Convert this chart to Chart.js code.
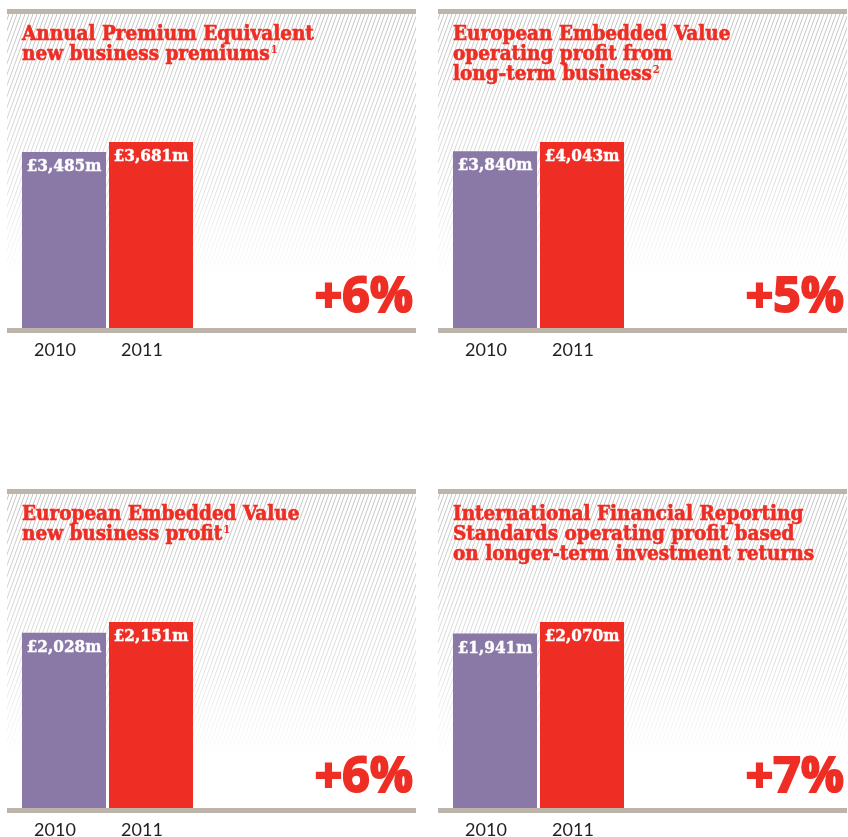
<!DOCTYPE html>
<html>
<head>
<meta charset="utf-8">
<script src="https://cdn.jsdelivr.net/npm/chart.js@4.4.0/dist/chart.umd.min.js"></script>
<style>
  body { margin: 0; background: #fff; width: 848px; height: 837px; overflow: hidden; position: relative; }
  .panel { position: absolute; width: 409px; height: 357px; }
</style>
</head>
<body>
<div class="panel" style="left:7px;top:0"><canvas id="c1" width="409" height="357"></canvas></div>
<div class="panel" style="left:438px;top:0"><canvas id="c2" width="409" height="357"></canvas></div>
<div class="panel" style="left:7px;top:480px"><canvas id="c3" width="409" height="357"></canvas></div>
<div class="panel" style="left:438px;top:480px"><canvas id="c4" width="409" height="357"></canvas></div>
<script>
// data
const years = ['2010', '2011'];
const apeValues = [3485, 3681];
const eevOperatingValues = [3840, 4043];
const eevNewBusinessValues = [2028, 2151];
const ifrsValues = [1941, 2070];

const apeTitle = ['Annual Premium Equivalent', 'new business premiums'];
const eevOperatingTitle = ['European Embedded Value', 'operating profit from', 'long-term business'];
const eevNewBusinessTitle = ['European Embedded Value', 'new business profit'];
const ifrsTitle = ['International Financial Reporting', 'Standards operating profit based', 'on longer-term investment returns'];

const footnotes = ['1', '2', '1', ''];
const changes = ['+6%', '+5%', '+6%', '+7%'];

const PURPLE = '#8a78a7';
const RED = '#ee2e24';
const RULE = '#bdb5ac';
const SERIF = '"DejaVu Serif Condensed", "DejaVu Serif", serif';

const panelDeco = {
  id: 'panelDeco',
  beforeDraw(chart) {
    const ctx = chart.ctx, w = chart.width, base = chart.chartArea.bottom;
    ctx.save();
    // faded diagonal hatching
    const g = ctx.createLinearGradient(0, 14, 0, base);
    g.addColorStop(0, 'rgba(190,190,190,0.9)');
    g.addColorStop(0.5, 'rgba(190,190,190,0.5)');
    g.addColorStop(0.85, 'rgba(190,190,190,0)');
    ctx.beginPath();
    ctx.rect(0, 14, w, base - 14);
    ctx.clip();
    ctx.beginPath();
    const h = base - 14;
    const dx = h / 2.75;
    for (let x = -dx - 10; x < w + 10; x += 4) {
      ctx.moveTo(x, base);
      ctx.lineTo(x + dx, 14);
    }
    ctx.strokeStyle = g;
    ctx.lineWidth = 1;
    ctx.stroke();
    ctx.restore();
    // top and bottom rules
    ctx.fillStyle = RULE;
    ctx.fillRect(0, 9, w, 5);
    ctx.fillRect(0, base, w, 5);
  },
  afterDatasetsDraw(chart) {
    const ctx = chart.ctx;
    const meta = chart.getDatasetMeta(0);
    ctx.save();
    ctx.fillStyle = '#fff';
    ctx.strokeStyle = '#fff';
    ctx.lineWidth = 0.4;
    ctx.font = 'bold 17px ' + SERIF;
    ctx.textAlign = 'center';
    ctx.textBaseline = 'top';
    meta.data.forEach((bar, i) => {
      const v = chart.data.datasets[0].data[i];
      const s = '£' + v.toLocaleString('en-GB') + 'm';
      ctx.fillText(s, bar.x, bar.y + 6);
      ctx.strokeText(s, bar.x, bar.y + 6);
    });
    ctx.restore();
  },
  afterDraw(chart, args, opts) {
    const ctx = chart.ctx;
    ctx.save();
    // title
    ctx.fillStyle = RED;
    ctx.strokeStyle = RED;
    ctx.lineWidth = 0.6;
    ctx.textAlign = 'left';
    ctx.textBaseline = 'alphabetic';
    const tf = 'bold 20.5px ' + SERIF;
    ctx.font = tf;
    opts.title.forEach((line, i) => {
      const y = 40 + i * 20;
      ctx.fillText(line, 15, y);
      ctx.strokeText(line, 15, y);
      if (i === opts.title.length - 1 && opts.note) {
        const tw = ctx.measureText(line).width;
        ctx.font = 'bold 11px ' + SERIF;
        ctx.fillText(opts.note, 15 + tw + 1, y - 7);
        ctx.font = tf;
      }
    });
    // change figure
    ctx.font = 'bold 48px "Open Sans", sans-serif';
    ctx.textAlign = 'right';
    ctx.lineWidth = 2;
    ctx.fillText(opts.change, chart.width - 3, 312);
    ctx.strokeText(opts.change, chart.width - 3, 312);
    ctx.restore();
  }
};

function makeChart(id, values, title, note, change) {
  const plotHeight = 228;
  return new Chart(document.getElementById(id), {
    type: 'bar',
    data: {
      labels: years,
      datasets: [{
        data: values,
        backgroundColor: [PURPLE, RED],
        borderWidth: 0,
        barPercentage: 84 / 87,
        categoryPercentage: 1
      }]
    },
    options: {
      responsive: false,
      animation: false,
      layout: { padding: { left: 13.5, right: 221.5, top: 100, bottom: 0 } },
      plugins: {
        legend: { display: false },
        tooltip: { enabled: false },
        panelDeco: { title: title, note: note, change: change }
      },
      scales: {
        x: {
          grid: { display: false, drawTicks: false },
          border: { display: false },
          ticks: {
            color: '#231f20',
            font: { family: 'Lato, "Open Sans", sans-serif', size: 18 },
            padding: 11,
            labelOffset: -9
          },
          afterFit(scale) { scale.height = 29; }
        },
        y: {
          display: false,
          min: 0,
          max: Math.max(...values) * plotHeight / 186
        }
      }
    },
    plugins: [panelDeco]
  });
}

makeChart('c1', apeValues, apeTitle, footnotes[0], changes[0]);
makeChart('c2', eevOperatingValues, eevOperatingTitle, footnotes[1], changes[1]);
makeChart('c3', eevNewBusinessValues, eevNewBusinessTitle, footnotes[2], changes[2]);
makeChart('c4', ifrsValues, ifrsTitle, footnotes[3], changes[3]);
</script>
</body>
</html>
